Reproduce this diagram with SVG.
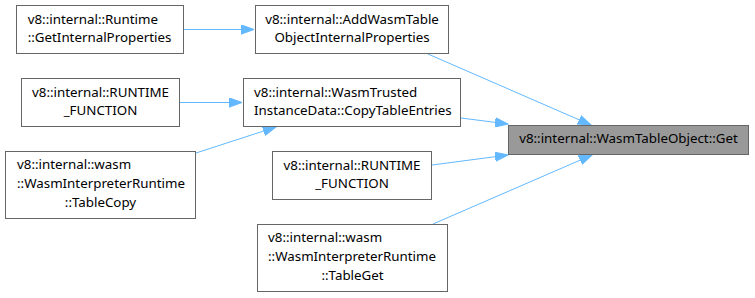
<svg xmlns="http://www.w3.org/2000/svg" width="755" height="298" viewBox="0 0 755 298">
  <style>
    .box { fill: #ffffff; stroke: #666666; stroke-width: 1; }
    .box.hl { fill: #999999; }
    text { font-family: "Noto Sans", "DejaVu Sans", sans-serif; font-size: 13.33px; fill: #000000; }
    .mid { text-anchor: middle; }
    .edge { fill: none; stroke: #63b8ff; stroke-width: 1; }
  </style>
  <defs>
    <marker id="arrow" viewBox="-13 -5 14 10" refX="0" refY="0" markerWidth="14" markerHeight="10" markerUnits="userSpaceOnUse" orient="auto">
      <polygon points="-13,-4.7 0,0 -13,4.7" fill="#63b8ff" stroke="#63b8ff" stroke-width="1"/>
    </marker>
  </defs>

  <g id="edges">
    <path class="edge" marker-end="url(#arrow)" d="M184,29.5 L254,29.5"/>
    <path class="edge" marker-end="url(#arrow)" d="M428,54 L591,125"/>
    <path class="edge" marker-end="url(#arrow)" d="M180,102.5 L242,102.5"/>
    <path class="edge" marker-end="url(#arrow)" d="M196,153 L276,127"/>
    <path class="edge" marker-end="url(#arrow)" d="M461,118 L508,124"/>
    <path class="edge" marker-end="url(#arrow)" d="M432,165 L508,155"/>
    <path class="edge" marker-end="url(#arrow)" d="M433,224 L592,155"/>
  </g>

  <g id="node-get">
    <rect class="box hl" x="508.5" y="125.5" width="240" height="29"/>
    <text class="mid" x="628.5" y="143.3">v8::internal::WasmTableObject::Get</text>
  </g>

  <g id="node-add-props">
    <rect class="box" x="255.5" y="5.5" width="193" height="48"/>
    <text class="mid" x="352" y="23.5">v8::internal::AddWasmTable</text>
    <text class="mid" x="352" y="42">ObjectInternalProperties</text>
  </g>

  <g id="node-runtime-props">
    <rect class="box" x="16.5" y="5.5" width="167" height="48"/>
    <text x="27.7" y="23.5">v8::internal::Runtime</text>
    <text x="27.7" y="42">::GetInternalProperties</text>
  </g>

  <g id="node-copy-entries">
    <rect class="box" x="243.5" y="78.5" width="217" height="48"/>
    <text x="254" y="96.5">v8::internal::WasmTrusted</text>
    <text x="254" y="115">InstanceData::CopyTableEntries</text>
  </g>

  <g id="node-runtime-fn-1">
    <rect class="box" x="21.5" y="78.5" width="158" height="48"/>
    <text class="mid" x="100.5" y="96.5">v8::internal::RUNTIME</text>
    <text class="mid" x="100.5" y="115">_FUNCTION</text>
  </g>

  <g id="node-table-copy">
    <rect class="box" x="5.5" y="151.5" width="190" height="67"/>
    <text x="17" y="169.3">v8::internal::wasm</text>
    <text x="17" y="188">::WasmInterpreterRuntime</text>
    <text class="mid" x="100.5" y="206.7">::TableCopy</text>
  </g>

  <g id="node-runtime-fn-2">
    <rect class="box" x="272.5" y="151.5" width="159" height="48"/>
    <text class="mid" x="352" y="169.5">v8::internal::RUNTIME</text>
    <text class="mid" x="352" y="188">_FUNCTION</text>
  </g>

  <g id="node-table-get">
    <rect class="box" x="257.5" y="224.5" width="190" height="67"/>
    <text x="268" y="242.3">v8::internal::wasm</text>
    <text x="268" y="261">::WasmInterpreterRuntime</text>
    <text class="mid" x="352.5" y="279.7">::TableGet</text>
  </g>
</svg>
